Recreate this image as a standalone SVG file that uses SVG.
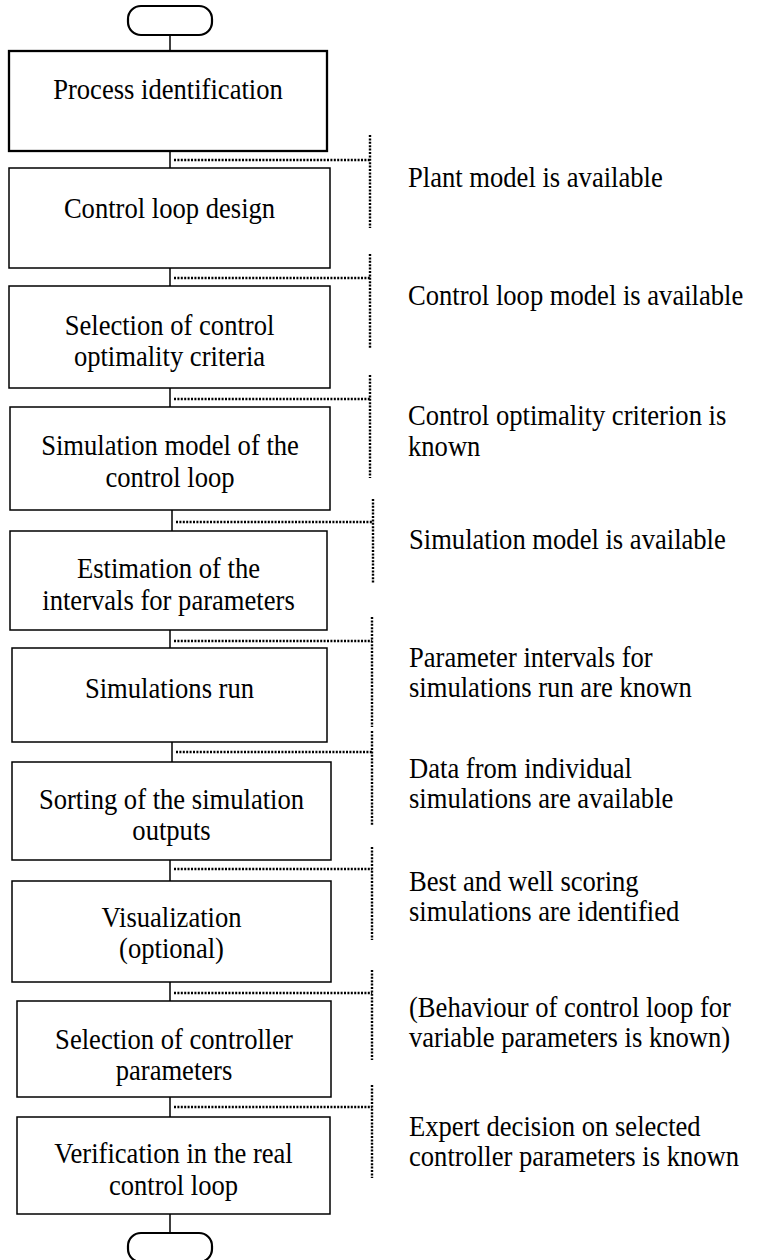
<svg xmlns="http://www.w3.org/2000/svg" width="757" height="1260" viewBox="0 0 757 1260">
<style>
.box{fill:#fff;stroke:#000;stroke-width:1.5}
.term{fill:#fff;stroke:#000;stroke-width:2.2}
.t{font-family:"Liberation Serif","Times New Roman",serif;font-size:26.6px;fill:#000}
.c{text-anchor:middle}
.ln{stroke:#000;stroke-width:1.5;fill:none}
.dot{stroke:#000;stroke-width:2.4;fill:none;stroke-dasharray:2 1.4}
</style>
<rect width="757" height="1260" fill="#fff"/>
<g id="connectors">
<line class="ln" x1="170" y1="35" x2="170" y2="51"/>
<line class="ln" x1="170" y1="151" x2="170" y2="168"/>
<line class="ln" x1="170" y1="268" x2="170" y2="286"/>
<line class="ln" x1="170" y1="388" x2="170" y2="407"/>
<line class="ln" x1="172" y1="510" x2="172" y2="531"/>
<line class="ln" x1="170" y1="630" x2="170" y2="648"/>
<line class="ln" x1="172" y1="742" x2="172" y2="762"/>
<line class="ln" x1="170" y1="860" x2="170" y2="881"/>
<line class="ln" x1="170" y1="982" x2="170" y2="1001"/>
<line class="ln" x1="170" y1="1097" x2="170" y2="1117"/>
<line class="ln" x1="170" y1="1214" x2="170" y2="1233"/>
<path class="dot" d="M174 160H370M370 135V228"/>
<path class="dot" d="M174 278H370M370 254V348"/>
<path class="dot" d="M174 399H370M370 375V478"/>
<path class="dot" d="M176 522H373M373 499V583"/>
<path class="dot" d="M174 641H372M372 617V727"/>
<path class="dot" d="M176 752H372M372 731V825"/>
<path class="dot" d="M174 869H372M372 847V940"/>
<path class="dot" d="M174 993H372M372 970V1060"/>
<path class="dot" d="M174 1107H372M372 1085V1178"/>
</g>
<g id="start"><rect class="term" x="128" y="6" width="84" height="29" rx="13"/></g>
<g id="n1"><rect class="box" x="9" y="51" width="318" height="100" style="stroke-width:2.3"/><text class="t c" transform="translate(168,99) scale(1,1.09)">Process identification</text></g>
<g id="n2"><rect class="box" x="9" y="168" width="321" height="100"/><text class="t c" transform="translate(169.5,218) scale(1,1.09)">Control loop design</text></g>
<g id="n3"><rect class="box" x="9" y="286" width="321" height="102"/><text class="t c" transform="translate(169.5,335) scale(1,1.09)">Selection of control</text><text class="t c" transform="translate(169.5,366) scale(1,1.09)">optimality criteria</text></g>
<g id="n4"><rect class="box" x="10" y="407" width="320" height="103"/><text class="t c" transform="translate(170,455) scale(1,1.09)">Simulation model of the</text><text class="t c" transform="translate(170,487) scale(1,1.09)">control loop</text></g>
<g id="n5"><rect class="box" x="10" y="531" width="317" height="99"/><text class="t c" transform="translate(168.5,578) scale(1,1.09)">Estimation of the</text><text class="t c" transform="translate(168.5,610) scale(1,1.09)">intervals for parameters</text></g>
<g id="n6"><rect class="box" x="12" y="648" width="315" height="94"/><text class="t c" transform="translate(169.5,698) scale(1,1.09)">Simulations run</text></g>
<g id="n7"><rect class="box" x="12" y="762" width="319" height="98"/><text class="t c" transform="translate(171.5,809) scale(1,1.09)">Sorting of the simulation</text><text class="t c" transform="translate(171.5,840) scale(1,1.09)">outputs</text></g>
<g id="n8"><rect class="box" x="12" y="881" width="319" height="101"/><text class="t c" transform="translate(171.5,927) scale(1,1.09)">Visualization</text><text class="t c" transform="translate(171.5,958) scale(1,1.09)">(optional)</text></g>
<g id="n9"><rect class="box" x="17" y="1001" width="314" height="96"/><text class="t c" transform="translate(174,1049) scale(1,1.09)">Selection of controller</text><text class="t c" transform="translate(174,1080) scale(1,1.09)">parameters</text></g>
<g id="n10"><rect class="box" x="17" y="1117" width="313" height="97"/><text class="t c" transform="translate(173.5,1163) scale(1,1.09)">Verification in the real</text><text class="t c" transform="translate(173.5,1195) scale(1,1.09)">control loop</text></g>
<g id="end"><rect class="term" x="128" y="1233" width="84" height="29" rx="13"/></g>
<g id="labels">
<text class="t" transform="translate(408,187) scale(1,1.09)">Plant model is available</text>
<text class="t" transform="translate(408,305) scale(1,1.09)">Control loop model is available</text>
<text class="t" transform="translate(408,425) scale(1,1.09)">Control optimality criterion is</text>
<text class="t" transform="translate(408,456) scale(1,1.09)">known</text>
<text class="t" transform="translate(409,549) scale(1,1.09)">Simulation model is available</text>
<text class="t" transform="translate(409,667) scale(1,1.09)">Parameter intervals for</text>
<text class="t" transform="translate(409,697) scale(1,1.09)">simulations run are known</text>
<text class="t" transform="translate(409,778) scale(1,1.09)">Data from individual</text>
<text class="t" transform="translate(409,808) scale(1,1.09)">simulations are available</text>
<text class="t" transform="translate(409,891) scale(1,1.09)">Best and well scoring</text>
<text class="t" transform="translate(409,921) scale(1,1.09)">simulations are identified</text>
<text class="t" transform="translate(409,1017) scale(1,1.09)">(Behaviour of control loop for</text>
<text class="t" transform="translate(409,1047) scale(1,1.09)">variable parameters is known)</text>
<text class="t" transform="translate(409,1136) scale(1,1.09)">Expert decision on selected</text>
<text class="t" transform="translate(409,1166) scale(1,1.09)">controller parameters is known</text>
</g>
</svg>
